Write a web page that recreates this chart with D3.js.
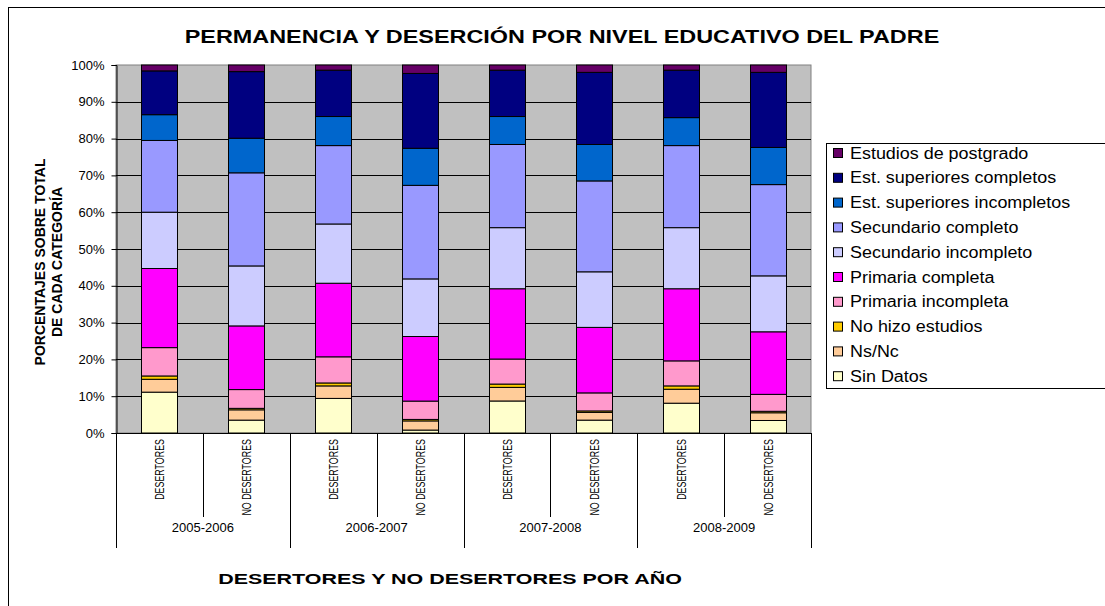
<!DOCTYPE html>
<html lang="es">
<head>
    <meta charset="UTF-8">
    <title>Permanencia y deserción por nivel educativo del padre</title>
    <script src="https://d3js.org/d3.v7.min.js"></script>
    <style>
        body { margin: 0; background: #fff; }
        text { font-family: "Liberation Sans", Arial, sans-serif; fill: #000; }
    </style>
</head>
<body>
    <div id="chart"></div>
    <script>
        // categories
        const years = ['2005-2006', '2006-2007', '2007-2008', '2008-2009'];
        const groups = ['DESERTORES', 'NO DESERTORES'];

        // series, bottom to top of the stack
        const series = ['Sin Datos', 'Ns/Nc', 'No hizo estudios', 'Primaria incompleta',
            'Primaria completa', 'Secundario incompleto', 'Secundario completo',
            'Est. superiores incompletos', 'Est. superiores completos', 'Estudios de postgrado'];
        const colors = ['#FFFFCC', '#FFCC99', '#FFCC00', '#FF99CC', '#FF00FF',
            '#CCCCFF', '#9999FF', '#0066CC', '#000080', '#660066'];

        // percentages per bar (D, ND for each year)
        const sinDatos      = [11.1, 3.5, 9.4, 0.8, 8.7, 3.5, 8.1, 3.4];
        const nsNc          = [3.5, 2.8, 3.4, 2.5, 3.7, 2.1, 3.8, 2.1];
        const noHizo        = [0.9, 0.4, 0.8, 0.4, 0.9, 0.4, 0.9, 0.4];
        const primIncomp    = [7.7, 5.1, 7.1, 5.0, 6.8, 4.9, 6.8, 4.6];
        const primComp      = [21.5, 17.3, 20.0, 17.6, 19.1, 17.8, 19.6, 17.0];
        const secIncomp     = [15.3, 16.3, 16.1, 15.7, 16.6, 15.1, 16.6, 15.2];
        const secComp       = [19.5, 25.3, 21.3, 25.5, 22.6, 24.7, 22.3, 24.8];
        const supIncomp     = [7.0, 9.4, 7.9, 10.1, 7.6, 9.9, 7.6, 10.1];
        const supComp       = [11.9, 18.1, 12.6, 20.4, 12.6, 19.6, 12.9, 20.4];
        const postgrado     = [1.6, 1.8, 1.4, 2.3, 1.4, 2.0, 1.4, 2.0];
        const values = [sinDatos, nsNc, noHizo, primIncomp, primComp, secIncomp,
            secComp, supIncomp, supComp, postgrado];

        const yTicks = [0, 0.1, 0.2, 0.3, 0.4, 0.5, 0.6, 0.7, 0.8, 0.9, 1];

        const width = 1105, height = 606;
        const plot = { left: 116, right: 811, top: 65, bottom: 433 };

        // the original picture is stretched: wide horizontal text, squeezed vertical text
        function stretch(sel, factor) {
            sel.each(function () {
                const len = this.getComputedTextLength();
                d3.select(this)
                    .attr('textLength', len * factor)
                    .attr('lengthAdjust', 'spacingAndGlyphs');
            });
        }

        // build rows for the stack
        const bars = [];
        years.forEach((yr, i) => {
            groups.forEach((g, j) => {
                const idx = i * 2 + j;
                const row = { key: yr + '|' + g, year: yr, group: g };
                series.forEach((s, k) => { row[s] = values[k][idx]; });
                bars.push(row);
            });
        });

        const stack = d3.stack().keys(series).offset(d3.stackOffsetExpand);
        const layers = stack(bars);

        const svg = d3.select('#chart').append('svg')
            .attr('width', width)
            .attr('height', height);

        // outer frame
        svg.append('rect')
            .attr('x', 8.5).attr('y', 7.5)
            .attr('width', 1110).attr('height', 620)
            .attr('fill', 'none').attr('stroke', '#000').attr('stroke-width', 1);

        const x = d3.scaleBand()
            .domain(bars.map(d => d.key))
            .range([plot.left, plot.right])
            .paddingInner(0.586)
            .paddingOuter(0.293);

        const y = d3.scaleLinear()
            .domain([0, 1])
            .range([plot.bottom, plot.top]);

        // plot background
        svg.append('rect')
            .attr('x', plot.left).attr('y', plot.top)
            .attr('width', plot.right - plot.left).attr('height', plot.bottom - plot.top)
            .attr('fill', '#C0C0C0').attr('stroke', '#808080');

        // gridlines
        svg.append('g')
            .selectAll('line')
            .data(yTicks.slice(1, -1))
            .join('line')
            .attr('x1', plot.left).attr('x2', plot.right)
            .attr('y1', d => Math.round(y(d)) + 0.5).attr('y2', d => Math.round(y(d)) + 0.5)
            .attr('stroke', '#000');

        // bars
        svg.append('g')
            .selectAll('g')
            .data(layers)
            .join('g')
            .attr('fill', (d, i) => colors[i])
            .selectAll('rect')
            .data(d => d)
            .join('rect')
            .attr('x', d => Math.round(x(d.data.key)) + 0.5)
            .attr('y', d => y(d[1]))
            .attr('width', Math.round(x.bandwidth()))
            .attr('height', d => y(d[0]) - y(d[1]))
            .attr('stroke', '#000')
            .attr('stroke-width', 1);

        // y axis
        const yAxis = d3.axisLeft(y)
            .tickValues(yTicks)
            .tickSize(5)
            .tickFormat(d3.format('.0%'));
        const gy = svg.append('g')
            .attr('transform', `translate(${plot.left + 0.5},0)`)
            .call(yAxis);
        gy.select('.domain').attr('stroke', '#000');
        gy.selectAll('text')
            .attr('font-size', 13)
            .attr('font-family', '"Liberation Sans", Arial, sans-serif')
            .attr('x', -12);

        // x axis line
        svg.append('line')
            .attr('x1', plot.left).attr('x2', plot.right)
            .attr('y1', plot.bottom + 0.5).attr('y2', plot.bottom + 0.5)
            .attr('stroke', '#000');

        // category dividers
        const step = x.step();
        const dividers = d3.range(bars.length + 1);
        svg.append('g')
            .selectAll('line')
            .data(dividers)
            .join('line')
            .attr('x1', d => Math.round(plot.left + d * step) + 0.5)
            .attr('x2', d => Math.round(plot.left + d * step) + 0.5)
            .attr('y1', plot.bottom)
            .attr('y2', d => d % 2 === 0 ? 548 : 517)
            .attr('stroke', '#000');

        // category labels
        const catLabels = svg.append('g')
            .selectAll('text')
            .data(bars)
            .join('text')
            .attr('transform', d => `translate(${x(d.key) + x.bandwidth() / 2 + 5},439) rotate(-90)`)
            .attr('text-anchor', 'end')
            .attr('font-size', 12.5)
            .text(d => d.group);
        stretch(catLabels, 0.71);

        // year labels
        svg.append('g')
            .selectAll('text')
            .data(years)
            .join('text')
            .attr('x', (d, i) => plot.left + (i * 2 + 1) * step)
            .attr('y', 532)
            .attr('text-anchor', 'middle')
            .attr('font-size', 13)
            .text(d => d);

        // title
        const title = svg.append('text')
            .attr('x', 562).attr('y', 43)
            .attr('text-anchor', 'middle')
            .attr('font-size', 18)
            .attr('font-weight', 'bold')
            .text('PERMANENCIA Y DESERCIÓN POR NIVEL EDUCATIVO DEL PADRE');
        stretch(title, 1.3);

        // x axis title
        const xTitle = svg.append('text')
            .attr('x', 450).attr('y', 584)
            .attr('text-anchor', 'middle')
            .attr('font-size', 15)
            .attr('font-weight', 'bold')
            .text('DESERTORES Y NO DESERTORES POR AÑO');
        stretch(xTitle, 1.43);

        // y axis title (two lines)
        const yTitle = svg.append('text')
            .attr('transform', 'translate(45,262) rotate(-90)')
            .attr('text-anchor', 'middle')
            .attr('font-size', 14)
            .attr('font-weight', 'bold');
        yTitle.append('tspan').attr('x', 0).attr('dy', 0).text('PORCENTAJES SOBRE TOTAL');
        yTitle.append('tspan').attr('x', 0).attr('dy', 17).text('DE CADA CATEGORÍA');

        // legend
        const legend = svg.append('g');
        legend.append('rect')
            .attr('x', 826.5).attr('y', 143.5)
            .attr('width', 300).attr('height', 245)
            .attr('fill', '#fff').attr('stroke', '#000');
        const legendItems = series.map((s, i) => ({ name: s, color: colors[i] })).reverse();
        const li = legend.selectAll('g.item')
            .data(legendItems)
            .join('g')
            .attr('class', 'item')
            .attr('transform', (d, i) => `translate(833,${153 + i * 24.8})`);
        li.append('rect')
            .attr('x', 0.5).attr('y', -4.5)
            .attr('width', 9).attr('height', 9)
            .attr('fill', d => d.color)
            .attr('stroke', '#000');
        const legendText = li.append('text')
            .attr('x', 17).attr('y', 5.5)
            .attr('font-size', 16)
            .text(d => d.name);
        stretch(legendText, 1.12);
    </script>
</body>
</html>
